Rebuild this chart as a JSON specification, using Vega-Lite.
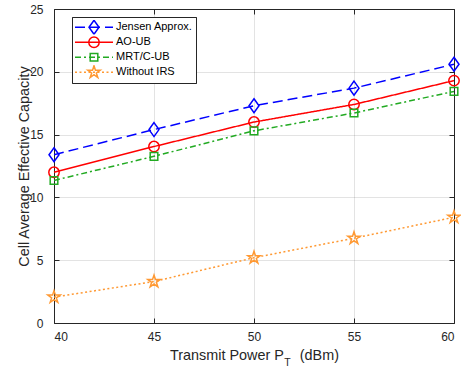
{
  "$schema": "https://vega.github.io/schema/vega-lite/v6.json",
  "width": 400,
  "height": 314,
  "autosize": "none",
  "padding": {"left": 54, "top": 9, "right": 7, "bottom": 44},
  "background": "white",
  "config": {
    "view": {"stroke": null},
    "font": "Liberation Sans",
    "axis": {
      "domainColor": "#262626",
      "domainWidth": 1,
      "tickColor": "#262626",
      "tickWidth": 1,
      "labelColor": "#262626",
      "labelFont": "Liberation Sans",
      "labelFontSize": 12,
      "titleColor": "#262626",
      "titleFont": "Liberation Sans",
      "titleFontSize": 14.4,
      "titleFontWeight": "normal",
      "gridColor": "#262626",
      "gridOpacity": 0.13,
      "gridWidth": 1
    }
  },
  "data": {
    "values": [
      {"p": 40, "series": "Jensen Approx.", "c": 13.4},
      {"p": 45, "series": "Jensen Approx.", "c": 15.4},
      {"p": 50, "series": "Jensen Approx.", "c": 17.3},
      {"p": 55, "series": "Jensen Approx.", "c": 18.7},
      {"p": 60, "series": "Jensen Approx.", "c": 20.6},
      {"p": 40, "series": "AO-UB", "c": 12.0},
      {"p": 45, "series": "AO-UB", "c": 14.05},
      {"p": 50, "series": "AO-UB", "c": 16.0},
      {"p": 55, "series": "AO-UB", "c": 17.4},
      {"p": 60, "series": "AO-UB", "c": 19.3},
      {"p": 40, "series": "MRT/C-UB", "c": 11.35},
      {"p": 45, "series": "MRT/C-UB", "c": 13.27},
      {"p": 50, "series": "MRT/C-UB", "c": 15.3},
      {"p": 55, "series": "MRT/C-UB", "c": 16.72},
      {"p": 60, "series": "MRT/C-UB", "c": 18.44},
      {"p": 40, "series": "Without IRS", "c": 2.06},
      {"p": 45, "series": "Without IRS", "c": 3.3},
      {"p": 50, "series": "Without IRS", "c": 5.2},
      {"p": 55, "series": "Without IRS", "c": 6.75},
      {"p": 60, "series": "Without IRS", "c": 8.42}
    ]
  },
  "layer": [
    {
      "mark": {"type": "line", "strokeWidth": 1.5},
      "encoding": {
        "x": {
          "field": "p", "type": "quantitative",
          "scale": {"domain": [40, 60], "nice": false},
          "axis": {
            "orient": "bottom", "values": [40, 45, 50, 55, 60], "grid": true,
            "tickSize": -5, "labelPadding": 13,
            "title": "Transmit Power P\u00a0\u00a0\u00a0\u00a0(dBm)",
            "titleX": 200, "titleY": 36, "titleBaseline": "alphabetic", "titleAlign": "center"
          }
        },
        "y": {
          "field": "c", "type": "quantitative",
          "scale": {"domain": [0, 25], "nice": false},
          "axis": {
            "orient": "left", "values": [0, 5, 10, 15, 20, 25], "grid": true,
            "tickSize": -5, "labelPadding": 16,
            "title": "Cell Average Effective Capacity",
            "titleX": -30, "titleBaseline": "middle"
          }
        },
        "color": {
          "field": "series", "type": "nominal",
          "sort": ["Jensen Approx.", "AO-UB", "MRT/C-UB", "Without IRS"],
          "scale": {"range": ["#0000ff", "#ff0000", "#22aa22", "#ff9933"]},
          "legend": {
            "title": null, "orient": "none", "legendX": 18, "legendY": 8,
            "symbolType": "M-1.167,0L5.167,0", "symbolSize": 144, "symbolStrokeWidth": 1.5,
            "labelFont": "Liberation Sans", "labelFontSize": 11, "labelColor": "black",
            "labelOffset": 27, "rowPadding": 0, "clipHeight": 14.5, "padding": 3, "labelLimit": 0,
            "strokeColor": "#262626", "fillColor": "white",
            "encode": {
              "symbols": {
                "update": {
                  "stroke": {"scale": "color", "field": "value"},
                  "fill": {"value": "transparent"},
                  "strokeWidth": {"value": 1.5}
                }
              }
            }
          }
        },
        "strokeDash": {
          "field": "series", "type": "nominal",
          "sort": ["Jensen Approx.", "AO-UB", "MRT/C-UB", "Without IRS"],
          "scale": {"range": [[10, 5], [1, 0], [6, 3, 2, 3], [2, 2.5]]},
          "legend": {
            "title": null, "orient": "none", "legendX": 18, "legendY": 8,
            "symbolType": "M-1.167,0L5.167,0", "symbolSize": 144, "symbolStrokeWidth": 1.5,
            "labelFont": "Liberation Sans", "labelFontSize": 11, "labelColor": "black",
            "labelOffset": 27, "rowPadding": 0, "clipHeight": 14.5, "padding": 3, "labelLimit": 0,
            "strokeColor": "#262626", "fillColor": "white",
            "encode": {
              "symbols": {
                "update": {
                  "stroke": {"scale": "color", "field": "value"},
                  "fill": {"value": "transparent"},
                  "strokeWidth": {"value": 1.5}
                }
              }
            }
          }
        }
      }
    },
    {
      "mark": {"type": "point", "filled": false, "size": 144, "strokeWidth": 1.5, "opacity": 1},
      "encoding": {
        "x": {
          "field": "p", "type": "quantitative",
          "axis": {
            "orient": "top", "values": [40, 45, 50, 55, 60], "grid": false,
            "labels": false, "tickSize": -5,
            "title": "T", "titleFontSize": 10.5,
            "titleX": 233, "titleY": 356, "titleBaseline": "alphabetic", "titleAlign": "center"
          }
        },
        "y": {
          "field": "c", "type": "quantitative",
          "axis": {
            "orient": "right", "values": [0, 5, 10, 15, 20, 25], "grid": false,
            "labels": false, "tickSize": -5, "title": null
          }
        },
        "stroke": {
          "field": "series", "type": "nominal",
          "scale": {
            "domain": ["Jensen Approx.", "AO-UB", "MRT/C-UB", "Without IRS"],
            "range": ["#0000ff", "#ff0000", "#22aa22", "#ff9933"]
          },
          "legend": {
            "title": null, "orient": "none", "legendX": 18, "legendY": 8,
            "symbolSize": 144, "symbolStrokeWidth": 1.5, "symbolOffset": 12,
            "labelFont": "Liberation Sans", "labelFontSize": 11, "labelOpacity": 0, "labelExpr": "''",
            "labelOffset": 27, "rowPadding": 0, "clipHeight": 14.5, "padding": 3, "labelLimit": 0,
            "strokeColor": "transparent", "fillColor": "transparent"
          }
        },
        "shape": {
          "field": "series", "type": "nominal",
          "scale": {
            "domain": ["Jensen Approx.", "AO-UB", "MRT/C-UB", "Without IRS"],
            "range": [
              "M0,-1.167L0.833,0L0,1.167L-0.833,0Z",
              "M0.867,0A0.867,0.867 0 1,1 -0.867,0A0.867,0.867 0 1,1 0.867,0Z",
              "M-0.633,-0.633L0.633,-0.633L0.633,0.633L-0.633,0.633Z",
              "M0,-1.083L0.243,-0.335L1.03,-0.335L0.394,0.128L0.637,0.876L0,0.414L-0.637,0.876L-0.394,0.128L-1.03,-0.335L-0.243,-0.335Z"
            ]
          },
          "legend": {
            "title": null, "orient": "none", "legendX": 18, "legendY": 8,
            "symbolSize": 144, "symbolStrokeWidth": 1.5, "symbolOffset": 12,
            "labelFont": "Liberation Sans", "labelFontSize": 11, "labelOpacity": 0, "labelExpr": "''",
            "labelOffset": 27, "rowPadding": 0, "clipHeight": 14.5, "padding": 3, "labelLimit": 0,
            "strokeColor": "transparent", "fillColor": "transparent"
          }
        }
      }
    }
  ],
  "resolve": {"axis": {"x": "independent", "y": "independent"}}
}
